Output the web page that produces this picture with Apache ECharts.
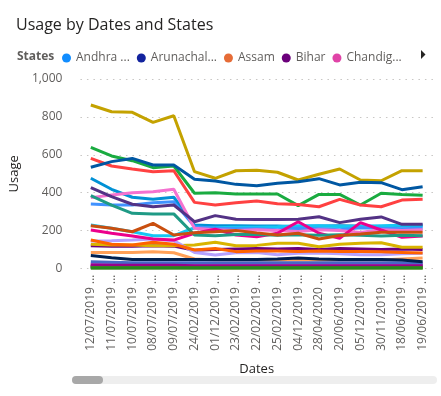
<!DOCTYPE html>
<html>
<head>
<meta charset="utf-8">
<script src="https://cdn.jsdelivr.net/npm/echarts@6/dist/echarts.min.js"></script>
<style>
html,body{margin:0;padding:0;background:#fff;}
#chart{width:441px;height:396px;}
</style>
</head>
<body>
<div id="chart"></div>
<script>
// ---- DATA ----
var dates = ['12/07/2019','11/07/2019','10/07/2019','08/07/2019','09/07/2019','24/02/2019','01/12/2019','23/02/2019','22/02/2019','25/02/2019','04/12/2019','28/04/2020','20/06/2019','05/12/2019','30/11/2019','18/06/2019','19/06/2019'];
var yTicks = [0, 200, 400, 600, 800, 1000];

var andhraPradesh    = [476,418,376,365,376,229,225,225,224,224,220,224,226,224,222,224,224];
var arunachalPradesh = [10,10,9,9,9,8,8,8,8,8,8,8,8,8,8,8,8];
var assam            = [14,14,13,13,13,12,12,12,12,12,12,12,12,12,12,12,12];
var bihar            = [120,118,118,120,118,96,100,103,105,103,106,100,106,103,100,103,100];
var chandigarh       = [6,6,6,6,6,5,5,5,5,5,5,5,5,5,5,5,5];
var chhattisgarh     = [20,18,18,18,18,16,16,16,16,16,16,16,16,16,16,16,16];
var dadraNagarHaveli = [128,124,124,120,120,124,138,120,122,133,133,115,128,133,136,112,112];
var delhi            = [12,12,11,11,11,10,10,10,10,10,10,10,10,10,10,10,10];
var goa              = [8,8,8,8,8,7,7,7,7,7,7,7,7,7,7,7,7];
var gujarat          = [639,594,569,532,541,397,400,393,393,393,332,391,391,335,397,390,386];
var haryana          = [229,212,194,173,173,215,215,218,218,220,225,225,222,222,225,228,228];
var himachalPradesh  = [340,335,335,347,352,221,212,210,210,205,212,210,205,215,212,210,212];
var jammuKashmir     = [85,85,85,89,83,50,45,45,45,45,45,45,45,45,45,50,55];
var jharkhand        = [25,25,24,24,24,22,22,22,22,22,22,22,22,22,22,22,22];
var karnataka        = [374,388,400,405,418,212,205,200,205,200,195,205,200,190,205,200,205];
var kerala           = [145,147,150,156,147,85,71,83,85,72,80,82,78,72,72,78,80];
var madhyaPradesh    = [863,827,824,771,806,511,476,516,518,508,467,497,525,467,463,516,516];
var manipur          = [3,3,3,3,3,3,3,3,3,3,3,3,3,3,3,3,3];
var meghalaya        = [5,5,5,5,5,4,4,4,4,4,4,4,4,4,4,4,4];
var nagaland         = [35,33,30,30,30,30,30,30,30,30,30,30,30,30,30,30,28];
var odisha           = [150,128,124,138,128,98,106,89,92,92,90,92,90,90,88,85,82];
var puducherry       = [18,17,17,17,17,15,15,15,15,15,15,15,15,15,15,15,15];
var punjab           = [203,186,172,156,150,186,207,177,168,186,247,186,159,242,203,165,172];
var rajasthan        = [427,379,339,326,335,247,279,260,258,258,260,273,242,260,272,233,233];
var sikkim           = [2,2,2,2,2,2,2,2,2,2,2,2,2,2,2,2,2];
var tamilNadu        = [581,541,525,511,516,349,335,347,356,342,338,326,365,335,326,361,365];
var telangana        = [384,335,291,288,288,177,173,180,180,175,178,175,178,175,172,175,173];
var tripura          = [4,4,4,4,4,4,4,4,4,4,4,4,4,4,4,4,4];
var uttarPradesh     = [534,564,581,546,546,471,462,444,437,450,458,474,441,455,453,416,431];
var uttarakhand      = [68,57,48,48,48,48,48,48,48,50,55,50,48,48,48,45,36];
var westBengal       = [226,212,194,238,177,189,194,200,188,177,186,156,174,182,191,191,191];

var stateNames = ['Andhra Pradesh','Arunachal Pradesh','Assam','Bihar','Chandigarh','Chhattisgarh','Dadra and Nagar Haveli','Delhi','Goa','Gujarat','Haryana','Himachal Pradesh','Jammu and Kashmir','Jharkhand','Karnataka','Kerala','Madhya Pradesh','Manipur','Meghalaya','Nagaland','Odisha','Puducherry','Punjab','Rajasthan','Sikkim','Tamil Nadu','Telangana','Tripura','Uttar Pradesh','Uttarakhand','West Bengal'];
var stateValues = [andhraPradesh,arunachalPradesh,assam,bihar,chandigarh,chhattisgarh,dadraNagarHaveli,delhi,goa,gujarat,haryana,himachalPradesh,jammuKashmir,jharkhand,karnataka,kerala,madhyaPradesh,manipur,meghalaya,nagaland,odisha,puducherry,punjab,rajasthan,sikkim,tamilNadu,telangana,tripura,uttarPradesh,uttarakhand,westBengal];
var legendShown = ['Andhra Pradesh','Arunachal Pradesh','Assam','Bihar','Chandigarh'];
var legendLabels = ['Andhra ...','Arunachal...','Assam','Bihar','Chandig...'];

// ---- STYLE ----
var palette = ['#118DFF','#12239E','#E66C37','#6B007B','#E044A7','#744EC2','#D9B300','#D64550','#197278','#1AAB40','#15C6F4','#4092FF','#FFA058','#BE5DC9','#F472D0','#B5A1FF','#C4A200','#00DBBC','#5BD667','#4668C5','#FF6300','#99008A','#EC008C','#533285','#99700A','#FF4141','#1F9A85','#25891C','#0057A2','#002050','#C94F0F'];
var lineColors = palette.slice();
lineColors[0] = '#0091D5';
var FONT = "'Open Sans', sans-serif";

var series = stateNames.map(function (n, i) {
  return {
    name: n, type: 'line', data: stateValues[i],
    symbol: 'none', showSymbol: false, smooth: false,
    lineStyle: { width: 3, color: lineColors[i] },
    itemStyle: { color: palette[i] },
    emphasis: { disabled: true }
  };
});

var chart = echarts.init(document.getElementById('chart'));
chart.setOption({
  animation: false,
  textStyle: { fontFamily: FONT },
  title: [
    { text: 'Usage by Dates and States', left: 11, top: 12,
      textStyle: { fontSize: 16, fontWeight: 'normal', color: '#252423', fontFamily: FONT } },
    { text: 'States', left: 12, top: 46,
      textStyle: { fontSize: 12, fontWeight: 'bold', color: '#605E5C', fontFamily: FONT } }
  ],
  legend: {
    data: legendShown, left: 57, top: 47, icon: 'circle', itemWidth: 9, itemHeight: 9, itemGap: 7,
    selectedMode: false,
    formatter: function (n) { return legendLabels[legendShown.indexOf(n)]; },
    textStyle: { fontSize: 12, color: '#605E5C', fontFamily: FONT }
  },
  grid: { left: 80, right: 8, top: 79, bottom: 127.5, containLabel: false },
  xAxis: {
    type: 'category', data: dates, boundaryGap: true,
    name: 'Dates', nameLocation: 'middle', nameGap: 94,
    nameTextStyle: { fontSize: 13, color: '#252423', fontFamily: FONT },
    axisLine: { show: false }, axisTick: { show: false },
    axisLabel: { rotate: 90, interval: 0, margin: 6, fontSize: 12, color: '#605E5C', fontFamily: FONT,
      formatter: function (v) { return v + ' ...'; } }
  },
  yAxis: {
    type: 'value', min: yTicks[0], max: yTicks[yTicks.length - 1], interval: 200,
    name: 'Usage', nameLocation: 'middle', nameGap: 51, nameRotate: 90,
    nameTextStyle: { fontSize: 13, color: '#252423', fontFamily: FONT },
    axisLine: { show: false }, axisTick: { show: false },
    axisLabel: { margin: 18, fontSize: 12, color: '#605E5C', fontFamily: FONT,
      formatter: function (v) { return v.toLocaleString('en-US'); } },
    splitLine: { lineStyle: { color: '#C8C6C4', type: [1.5, 5], width: 1 } }
  },
  graphic: [
    { type: 'polygon', shape: { points: [[421, 50], [425.5, 54.5], [421, 59]] }, style: { fill: '#252423' } },
    { type: 'rect', shape: { x: 72, y: 376, width: 365, height: 8, r: 4 }, style: { fill: '#EEEEEE' } },
    { type: 'rect', shape: { x: 72, y: 376, width: 31, height: 8, r: 4 }, style: { fill: '#A8A8A8' } }
  ],
  series: series
});
</script>
</body>
</html>
